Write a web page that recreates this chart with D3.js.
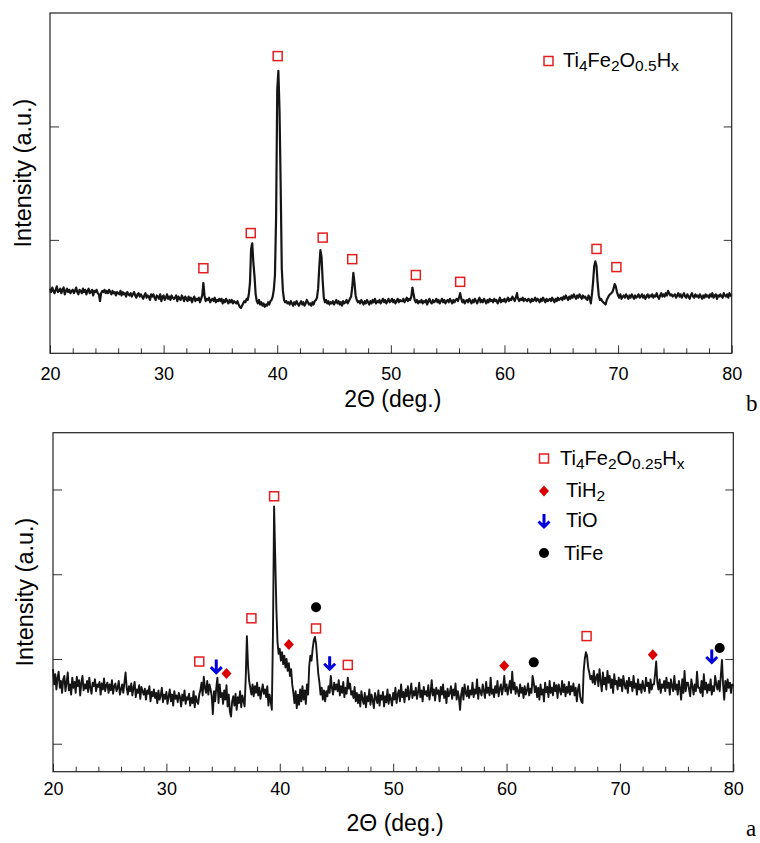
<!DOCTYPE html>
<html><head><meta charset="utf-8">
<script src="https://cdn.jsdelivr.net/npm/d3@7"></script>
<style>body{margin:0;background:#fff}svg{display:block}</style>
</head><body><svg id="c" width="760" height="843"></svg>
<script>
// measurement grid
const thetaStart = 20, thetaStep = 0.1;
const xTicks = [20, 30, 40, 50, 60, 70, 80];
const xMinorTicks = [22,24,26,28,32,34,36,38,42,44,46,48,52,54,56,58,62,64,66,68,72,74,76,78];

// panel b (top) intensities, 20.0 .. 80.0 deg, step 0.1
const intensityB = [
57,54,58,55,53,56,59,54,55,57,
53,56,58,52,55,57,54,56,53,55,
56,53,55,58,54,52,56,55,53,57,
54,56,52,55,57,53,54,56,51,55,
54,56,53,52,46,53,55,54,56,53,
55,53,56,54,52,55,53,54,51,54,
53,52,55,51,54,52,53,50,54,52,
51,53,50,52,54,51,49,52,53,50,
52,50,48,51,53,49,51,50,47,52,
50,52,49,47,51,50,48,52,46,50,
51,47,49,52,48,50,47,51,49,48,
49,51,46,50,48,47,51,49,46,50,
48,46,50,47,49,45,48,50,46,48,
47,49,45,48,51,62,51,46,48,47,
49,45,47,48,46,49,45,47,46,48,
46,48,44,47,45,48,46,44,47,45,
47,44,46,45,44,46,43,41,40,42,
44,46,45,48,47,52,62,92,97,80,
68,52,46,44,47,43,45,42,44,41,
43,42,45,43,46,47,50,56,69,120,
232,249,215,150,75,55,47,45,46,44,
45,43,46,44,42,45,43,46,44,42,
44,46,43,45,42,44,47,45,43,44,
42,45,43,46,47,49,57,76,91,85,
64,49,45,47,44,46,43,45,44,46,
43,45,47,44,46,43,45,42,46,44,
45,47,44,46,48,50,58,71,62,51,
47,45,46,44,47,45,43,46,44,47,
45,43,46,44,47,45,48,44,46,45,
47,44,46,48,45,47,44,46,48,45,
46,48,45,47,44,46,48,45,47,46,
46,48,45,47,49,46,48,47,50,58,
52,47,45,47,44,46,45,47,44,46,
45,47,43,46,48,45,44,47,45,46,
48,45,47,44,46,48,45,47,44,46,
47,45,48,46,44,47,45,47,48,46,
49,53,48,45,47,44,46,47,45,48,
46,44,47,45,48,46,44,47,49,45,
47,45,48,46,44,47,45,48,46,47,
45,48,46,47,44,46,49,45,47,46,
48,45,47,49,46,48,47,50,48,46,
49,53,48,46,48,47,49,46,48,47,
46,48,47,45,48,46,47,49,46,48,
47,45,48,46,49,47,45,48,46,47,
48,46,49,47,45,48,46,49,47,48,
49,47,50,48,51,49,47,50,48,51,
49,52,50,48,51,49,52,50,48,51,
49,50,48,47,51,49,44,52,63,77,
81,77,62,51,47,48,46,45,44,43,
47,49,51,52,53,54,57,61,59,54,
51,49,52,48,50,51,49,52,50,48,
51,49,52,50,48,51,49,50,52,49,
50,52,49,51,48,50,52,49,51,50,
52,49,51,50,53,50,48,51,53,50,
52,50,53,51,55,53,51,52,50,51,
52,49,51,53,50,52,49,51,53,50,
49,52,50,48,51,53,50,49,52,50,
51,49,52,50,48,51,49,52,50,51,
49,52,50,53,49,51,52,48,51,50,
52,50,49,53,51,50,52,49,53,51,
50];

// panel a (bottom) intensities, 20.0 .. 80.0 deg, step 0.1
const intensityA = [
88,70,82,64,78,85,66,74,60,76,
80,62,72,84,63,70,58,78,66,73,
60,79,68,75,57,72,80,63,70,65,
74,61,78,66,59,72,68,76,62,70,
67,73,58,71,64,77,62,69,72,60,
70,63,75,59,68,71,62,66,74,58,
64,70,60,72,84,66,58,68,62,71,
57,66,73,55,64,60,69,53,67,62,
58,65,52,63,59,68,50,61,56,64,
54,60,48,63,52,57,66,49,58,53,
61,47,56,64,50,58,45,62,53,57,
49,60,55,44,58,51,63,47,55,52,
59,45,54,48,62,43,56,50,47,58,
63,72,57,79,66,60,74,58,70,64,
56,35,62,50,66,78,48,70,55,60,
47,63,52,69,44,58,38,32,50,56,
45,59,40,55,48,62,43,57,51,44,
78,127,92,74,66,58,70,56,68,60,
72,57,66,53,62,70,59,64,55,68,
45,58,50,40,130,280,220,160,120,106,
112,98,108,94,104,90,100,86,95,80,
88,70,60,48,62,42,58,46,64,50,
68,52,63,47,70,58,92,104,98,112,
122,126,118,100,82,72,58,66,52,63,
50,62,56,68,60,80,66,58,72,64,
70,62,75,57,68,60,73,55,66,59,
78,65,71,58,62,54,67,50,60,48,
58,44,62,52,47,60,43,56,50,64,
46,58,51,42,60,54,48,63,45,57,
52,61,44,56,49,64,47,58,53,45,
60,52,66,48,58,63,50,70,55,61,
49,64,56,68,52,60,71,54,62,57,
66,53,61,72,55,63,50,67,58,62,
56,69,52,60,75,57,64,51,66,59,
63,50,67,58,70,54,62,48,65,56,
60,68,53,64,57,71,52,62,55,40,
58,66,52,70,60,56,68,54,63,58,
72,55,64,59,76,53,66,61,57,70,
62,54,73,60,66,57,78,59,64,55,
68,60,74,56,65,70,58,66,80,62,
70,58,66,74,60,85,64,72,59,67,
62,56,70,60,66,54,68,58,63,71,
57,65,60,80,72,61,68,55,66,52,
70,58,64,50,72,61,67,55,74,60,
66,57,72,62,69,54,70,63,58,74,
61,70,56,67,60,73,58,68,62,71,
57,66,50,64,70,55,50,48,85,100,
108,104,90,84,76,80,72,86,70,78,
82,68,88,74,62,84,70,78,64,86,
72,80,66,76,60,82,70,74,64,78,
68,76,62,80,70,65,74,60,78,68,
73,62,80,66,71,58,76,64,70,60,
74,66,62,78,68,72,60,76,64,70,
70,82,97,72,64,76,60,70,66,74,
62,78,66,72,58,76,68,62,80,64,
70,58,74,66,52,76,60,86,62,72,
72,64,56,76,68,58,70,62,85,66,
66,60,74,56,82,64,72,60,70,63,
76,58,68,62,80,70,64,74,62,80,
99,70,52,74,62,76,66,72,60,70,
68];

// phase markers [2theta, intensity]
const squaresB = [[33.5,75],[37.67,106],[40.04,262],[44.0,102],[46.6,83],[52.2,69],[56.1,63],[68.1,92],[69.85,76]];
const squaresA = [[32.9,97],[37.5,148],[39.5,292],[43.2,136],[46.0,93],[67.06,127]];
const diamondsA = [[35.3,83],[40.8,117],[59.8,92],[72.9,105]];
const arrowsA = [[34.4,91],[44.4,95],[78.1,103]];
const circlesA = [[43.2,161],[62.4,96],[78.8,113]];

const FONT = "'Liberation Sans', Arial, Helvetica, sans-serif";
const RED = "#e41e1e", DRED = "#dd0000", BLUE = "#0000dd";
const svg = d3.select("#c");

function drawPanel(cfg) {
  const x = d3.scaleLinear().domain([20, 80]).range([cfg.left, cfg.right]);
  const y = d3.scaleLinear().domain(cfg.yDomain).range([cfg.bottom, cfg.top]);
  const g = svg.append("g");
  const ax = g.append("g").attr("transform", `translate(0,${cfg.bottom})`)
    .call(d3.axisBottom(x).tickValues(xTicks).tickSize(-8).tickPadding(cfg.tickPad).tickFormat(d3.format("d")));
  ax.select(".domain").remove();
  ax.selectAll("line").attr("stroke", "#333");
  ax.selectAll("text").attr("font-family", FONT).attr("font-size", 18).attr("fill", "#000");
  const axm = g.append("g").attr("transform", `translate(0,${cfg.bottom})`)
    .call(d3.axisBottom(x).tickValues(xMinorTicks).tickSize(-5).tickFormat(""));
  axm.select(".domain").remove();
  axm.selectAll("line").attr("stroke", "#333");
  const ayl = g.append("g").attr("transform", `translate(${cfg.left},0)`)
    .call(d3.axisLeft(y).tickValues(cfg.yTicks).tickSize(-9).tickFormat(""));
  ayl.select(".domain").remove();
  ayl.selectAll("line").attr("stroke", "#333");
  const ayr = g.append("g").attr("transform", `translate(${cfg.right},0)`)
    .call(d3.axisRight(y).tickValues(cfg.yTicks).tickSize(-8).tickFormat(""));
  ayr.select(".domain").remove();
  ayr.selectAll("line").attr("stroke", "#333");
  g.append("rect").attr("x", cfg.left).attr("y", cfg.top)
    .attr("width", cfg.right - cfg.left).attr("height", cfg.bottom - cfg.top)
    .attr("fill", "none").attr("stroke", "#222").attr("stroke-width", 1.2);
  const line = d3.line().x((d, i) => x(thetaStart + i * thetaStep)).y(d => y(d));
  g.append("path").datum(cfg.data).attr("d", line)
    .attr("fill", "none").attr("stroke", "#151515").attr("stroke-width", cfg.lw).attr("stroke-linejoin", "round");
  g.append("text").attr("x", (cfg.left + cfg.right) / 2 + 2).attr("y", cfg.xTitleY)
    .attr("text-anchor", "middle").attr("font-family", FONT).attr("font-size", 23).text("2\u0398 (deg.)");
  g.append("text").attr("transform", `translate(${cfg.yTitleX},${cfg.yTitleCY}) rotate(-90)`)
    .attr("text-anchor", "middle").attr("font-family", FONT).attr("font-size", 23.5).text("Intensity (a.u.)");
  g.append("text").attr("x", cfg.tagX).attr("y", cfg.tagY).attr("font-family", "'Liberation Serif', 'Times New Roman', serif")
    .attr("font-size", 23).text(cfg.tag);
  return {x, y, g};
}

function squares(g, data, x, y) {
  g.selectAll(null).data(data).enter().append("rect")
    .attr("x", d => x(d[0]) - 4.5).attr("y", d => y(d[1]) - 4.5).attr("width", 9).attr("height", 9)
    .attr("fill", "none").attr("stroke", RED).attr("stroke-width", 1.5);
}
function diamonds(g, data, x, y) {
  g.selectAll(null).data(data).enter().append("path")
    .attr("d", d => `M${x(d[0])},${y(d[1]) - 5.5}l5,5.5l-5,5.5l-5,-5.5z`).attr("fill", DRED);
}
function circles(g, data, x, y) {
  g.selectAll(null).data(data).enter().append("circle")
    .attr("cx", d => x(d[0])).attr("cy", d => y(d[1])).attr("r", 5).attr("fill", "#000");
}
function arrows(g, data, x, y) {
  g.selectAll(null).data(data).enter().append("path")
    .attr("d", d => { const cx = x(d[0]), cy = y(d[1]);
      return `M${cx},${cy - 7}L${cx},${cy + 6}M${cx - 5.5},${cy + 0.5}L${cx},${cy + 6}L${cx + 5.5},${cy + 0.5}`; })
    .attr("fill", "none").attr("stroke", BLUE).attr("stroke-width", 3);
}

function formula(g, x0, yb, parts, size, subSize) {
  const t = g.append("text").attr("x", x0).attr("y", yb).attr("font-family", FONT).attr("font-size", size);
  let shifted = false;
  parts.forEach(([s, sub]) => {
    const ts = t.append("tspan").text(s);
    if (sub && !shifted) { ts.attr("dy", 4).attr("font-size", subSize); shifted = true; }
    else if (sub) { ts.attr("font-size", subSize); }
    else if (!sub && shifted) { ts.attr("dy", -4); shifted = false; }
  });
  return t;
}

// ----- top panel (b)
const B = drawPanel({left: 50, right: 731.7, top: 13, bottom: 353.3, yDomain: [0, 300], yTicks: [100, 200],
  data: intensityB, lw: 2.2, tickPad: 14, xTitleY: 407, yTitleX: 31, yTitleCY: 173, tag: "b", tagX: 746, tagY: 411});
squares(B.g, squaresB, B.x, B.y);
B.g.append("rect").attr("x", 544).attr("y", 56.5).attr("width", 9).attr("height", 9)
  .attr("fill", "none").attr("stroke", RED).attr("stroke-width", 1.5);
formula(B.g, 563, 67, [["Ti"],["4",1],["Fe"],["2",1],["O"],["0.5",1],["H"],["x",1]], 20, 15.5);

// ----- bottom panel (a)
const A = drawPanel({left: 53, right: 733.3, top: 432.7, bottom: 771.7, yDomain: [-33, 367], yTicks: [0, 100, 200, 300],
  data: intensityA, lw: 1.9, tickPad: 10.5, xTitleY: 831, yTitleX: 33, yTitleCY: 592, tag: "a", tagX: 746, tagY: 836});
squares(A.g, squaresA, A.x, A.y);
diamonds(A.g, diamondsA, A.x, A.y);
arrows(A.g, arrowsA, A.x, A.y);
circles(A.g, circlesA, A.x, A.y);
// legend
A.g.append("rect").attr("x", 539.5).attr("y", 454).attr("width", 9).attr("height", 9)
  .attr("fill", "none").attr("stroke", RED).attr("stroke-width", 1.5);
formula(A.g, 560, 465, [["Ti"],["4",1],["Fe"],["2",1],["O"],["0.25",1],["H"],["x",1]], 20, 15.5);
A.g.append("path").attr("d", "M544,485.5l5,5.5l-5,5.5l-5,-5.5z").attr("fill", DRED);
formula(A.g, 566, 497, [["TiH"],["2",1]], 20, 15.5);
A.g.append("path").attr("d", "M544,514L544,527M538.5,521.5L544,527L549.5,521.5")
  .attr("fill", "none").attr("stroke", BLUE).attr("stroke-width", 3);
A.g.append("text").attr("x", 566).attr("y", 527).attr("font-family", FONT).attr("font-size", 20).text("TiO");
A.g.append("circle").attr("cx", 544).attr("cy", 553).attr("r", 5).attr("fill", "#000");
A.g.append("text").attr("x", 564).attr("y", 560).attr("font-family", FONT).attr("font-size", 20).text("TiFe");
</script></body></html>
